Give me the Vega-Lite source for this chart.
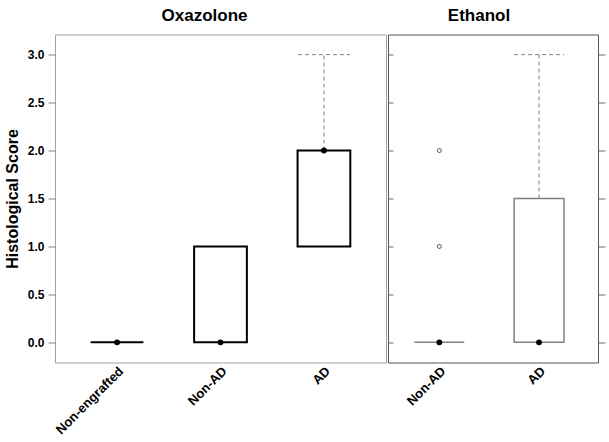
{
  "$schema": "https://vega.github.io/schema/vega-lite/v6.json",
  "padding": {"left": 3, "top": 5.5, "right": 5, "bottom": 5},
  "background": "white",
  "spacing": 0,
  "config": {
    "font": "Liberation Sans",
    "view": {"stroke": "#a0a0a0"},
    "axis": {"labelFont": "Liberation Sans", "labelFontWeight": "bold", "labelColor": "black", "domain": false, "grid": false, "tickColor": "#808080", "titleFont": "Liberation Sans"},
    "title": {"font": "Liberation Sans", "fontSize": 17, "fontWeight": "bold", "color": "black"}
  },
  "datasets": {
    "ox": [
      {"group": "Non-engrafted", "q1": 0, "med": 0, "q3": 0, "hi": 0},
      {"group": "Non-AD", "q1": 0, "med": 0, "q3": 1, "hi": 1},
      {"group": "AD", "q1": 1, "med": 2, "q3": 2, "hi": 3}
    ],
    "eth": [
      {"group": "Non-AD", "q1": 0, "med": 0, "q3": 0, "hi": 0},
      {"group": "AD", "q1": 0, "med": 0, "q3": 1.5, "hi": 3}
    ],
    "eth_out": [
      {"group": "Non-AD", "value": 1},
      {"group": "Non-AD", "value": 2}
    ]
  },
  "hconcat": [
    {
      "width": 331,
      "height": 328,
      "title": {"text": "Oxazolone", "anchor": "middle", "dx": -16, "offset": 10},
      "view": {"stroke": "#a0a0a0"},
      "data": {"name": "ox"},
      "encoding": {
        "x": {
          "field": "group", "type": "nominal",
          "sort": ["Non-engrafted", "Non-AD", "AD"],
          "scale": {"paddingInner": 0, "paddingOuter": 0.1},
          "axis": {"title": null, "labelAngle": -45, "ticks": false, "labelFontSize": 13, "labelPadding": 2}
        }
      },
      "layer": [
        {
          "mark": {"type": "bar", "fill": "white", "stroke": "black", "strokeWidth": 2, "width": {"band": 0.51}},
          "encoding": {
            "y": {
              "field": "q1", "type": "quantitative",
              "scale": {"domain": [-0.21, 3.21], "nice": false, "zero": false},
              "axis": {"title": "Histological Score", "titleFontSize": 16, "titleFontWeight": "bold", "titleColor": "black", "titlePadding": 7, "values": [0, 0.5, 1, 1.5, 2, 2.5, 3], "format": ".1f", "labelFontSize": 12, "tickSize": 7, "labelPadding": 4, "tickColor": "#808080"}
            },
            "y2": {"field": "q3"}
          }
        },
        {
          "transform": [{"filter": "datum.hi > datum.q3"}],
          "mark": {"type": "rule", "strokeDash": [4, 3], "color": "#808080", "strokeWidth": 1},
          "encoding": {
            "y": {
              "field": "q3", "type": "quantitative",
              "axis": {"title": "Histological Score", "titleFontSize": 16, "titleFontWeight": "bold", "titleColor": "black", "titlePadding": 7, "values": [0, 0.5, 1, 1.5, 2, 2.5, 3], "format": ".1f", "labelFontSize": 12, "tickSize": 7, "labelPadding": 4, "tickColor": "#808080"}
            },
            "y2": {"field": "hi"}
          }
        },
        {
          "transform": [{"filter": "datum.hi > datum.q3"}],
          "mark": {"type": "rule", "strokeDash": [4, 3], "color": "#808080", "strokeWidth": 1, "xOffset": -26, "x2Offset": 26},
          "encoding": {
            "x2": {"field": "group"},
            "y": {
              "field": "hi", "type": "quantitative",
              "axis": {"title": "Histological Score", "titleFontSize": 16, "titleFontWeight": "bold", "titleColor": "black", "titlePadding": 7, "values": [0, 0.5, 1, 1.5, 2, 2.5, 3], "format": ".1f", "labelFontSize": 12, "tickSize": 7, "labelPadding": 4, "tickColor": "#808080"}
            }
          }
        },
        {
          "mark": {"type": "point", "filled": true, "color": "black", "size": 35, "opacity": 1},
          "encoding": {
            "y": {
              "field": "med", "type": "quantitative",
              "axis": {"title": "Histological Score", "titleFontSize": 16, "titleFontWeight": "bold", "titleColor": "black", "titlePadding": 7, "values": [0, 0.5, 1, 1.5, 2, 2.5, 3], "format": ".1f", "labelFontSize": 12, "tickSize": 7, "labelPadding": 4, "tickColor": "#808080"}
            }
          }
        }
      ]
    },
    {
      "width": 210,
      "height": 328,
      "title": {"text": "Ethanol", "anchor": "middle", "dx": -14, "offset": 10},
      "view": {"stroke": "#555555"},
      "encoding": {
        "x": {
          "field": "group", "type": "nominal",
          "sort": ["Non-AD", "AD"],
          "scale": {"paddingInner": 0, "paddingOuter": 0.053, "align": 0.14},
          "axis": {"title": null, "labelAngle": -45, "ticks": false, "labelFontSize": 13, "labelPadding": 2}
        }
      },
      "resolve": {"axis": {"y": "independent"}},
      "layer": [
        {
          "data": {"name": "eth"},
          "transform": [{"filter": "datum.hi > datum.q3"}],
          "mark": {"type": "rule", "strokeDash": [4, 3], "color": "#808080", "strokeWidth": 1},
          "encoding": {
            "y": {
              "field": "q3", "type": "quantitative",
              "scale": {"domain": [-0.21, 3.21], "nice": false, "zero": false},
              "axis": {"orient": "left", "title": null, "labels": false, "values": [0, 0.5, 1, 1.5, 2, 2.5, 3], "tickSize": -5, "tickColor": "#666666"}
            },
            "y2": {"field": "hi"}
          }
        },
        {
          "data": {"name": "eth"},
          "transform": [{"filter": "datum.hi > datum.q3"}],
          "mark": {"type": "rule", "strokeDash": [4, 3], "color": "#808080", "strokeWidth": 1, "xOffset": -25, "x2Offset": 25},
          "encoding": {
            "x2": {"field": "group"},
            "y": {
              "field": "hi", "type": "quantitative",
              "axis": {"orient": "right", "title": null, "labels": false, "values": [0, 0.5, 1, 1.5, 2, 2.5, 3], "tickSize": 7, "tickColor": "#666666"}
            }
          }
        },
        {
          "data": {"name": "eth"},
          "mark": {"type": "bar", "fill": "white", "stroke": "#808080", "strokeWidth": 1.5, "width": {"band": 0.5}},
          "encoding": {
            "y": {"field": "q1", "type": "quantitative", "axis": null},
            "y2": {"field": "q3"}
          }
        },
        {
          "data": {"name": "eth_out"},
          "mark": {"type": "point", "filled": false, "color": "#555555", "size": 16, "strokeWidth": 1, "opacity": 1},
          "encoding": {
            "y": {"field": "value", "type": "quantitative", "axis": null}
          }
        },
        {
          "data": {"name": "eth"},
          "mark": {"type": "point", "filled": true, "color": "black", "size": 35, "opacity": 1},
          "encoding": {
            "y": {"field": "med", "type": "quantitative", "axis": null}
          }
        }
      ]
    }
  ]
}
